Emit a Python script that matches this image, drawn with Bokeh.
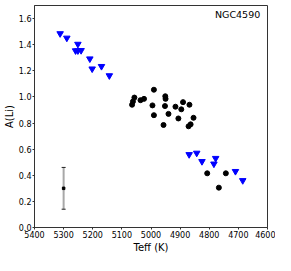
from bokeh.plotting import figure
from bokeh.models import Range1d, FixedTicker, Label, ColumnDataSource, CustomJSTickFormatter
from bokeh.embed import file_html
from bokeh.resources import INLINE

# Upper limits (blue downward triangles)
lim_teff = [5312, 5289, 5251, 5259, 5251, 5240, 5210, 5202, 5170, 5143,
            4869, 4843, 4825, 4778, 4784, 4710, 4685]
lim_ali = [1.485, 1.451, 1.404, 1.354, 1.354, 1.356, 1.292, 1.215, 1.234, 1.163,
           0.559, 0.570, 0.506, 0.530, 0.487, 0.430, 0.360]

# Detections (black circles)
det_teff = [5065, 5062, 5057, 5036, 5024, 4990, 4995, 4951, 4950, 4952, 4916,
            4896, 4890, 4868, 4990, 4940, 4906, 4854, 4957, 4871, 4864,
            4807, 4743, 4767]
det_ali = [0.94, 0.965, 0.995, 0.975, 0.985, 1.055, 0.935, 1.005, 0.985, 0.93, 0.925,
           0.905, 0.96, 0.94, 0.86, 0.87, 0.835, 0.84, 0.785, 0.775, 0.79,
           0.415, 0.415, 0.305]

# Typical error bar
err_teff = [5300]
err_ali = [0.30]
err_size = [0.16]

x_ticks = [5400, 5300, 5200, 5100, 5000, 4900, 4800, 4700, 4600]
y_ticks = [0.0, 0.2, 0.4, 0.6, 0.8, 1.0, 1.2, 1.4, 1.6]
title_text = "NGC4590"

p = figure(width=275, height=255, output_backend="svg", toolbar_location=None,
           x_range=Range1d(5400, 4600), y_range=Range1d(0.0, 1.7),
           min_border_left=0, min_border_right=8, min_border_top=5, min_border_bottom=0)
p.xgrid.visible = False
p.ygrid.visible = False
p.outline_line_color = "#333333"
p.outline_line_width = 1

p.xaxis.ticker = FixedTicker(ticks=x_ticks)
p.yaxis.ticker = FixedTicker(ticks=y_ticks)
p.yaxis.formatter = CustomJSTickFormatter(code="return tick.toFixed(1);")
p.xaxis.axis_label = "Teff (K)"
p.yaxis.axis_label = "A(Li)"
for ax in (p.xaxis, p.yaxis):
    ax.major_label_text_font = "DejaVu Sans"
    ax.major_label_text_font_size = "8px"
    ax.major_label_text_color = "#000000"
    ax.axis_label_text_font = "DejaVu Sans"
    ax.axis_label_text_font_size = "10px"
    ax.axis_label_text_font_style = "normal"
    ax.axis_label_text_color = "#000000"
    ax.axis_line_color = "#333333"
    ax.major_tick_line_color = "#333333"
    ax.major_tick_out = 2
    ax.major_tick_in = 0
    ax.minor_tick_line_color = None
    ax.major_label_standoff = 1
    ax.axis_label_standoff = 1

src_err = ColumnDataSource(dict(x=err_teff, y=err_ali,
                                lo=[a - e for a, e in zip(err_ali, err_size)],
                                hi=[a + e for a, e in zip(err_ali, err_size)]))
p.segment(x0="x", y0="lo", x1="x", y1="hi", source=src_err,
          line_color="#a8a8a8", line_width=2)
p.scatter(x="x", y="lo", source=src_err, marker="dash", size=4, line_color="#222222", line_width=1)
p.scatter(x="x", y="hi", source=src_err, marker="dash", size=4, line_color="#222222", line_width=1)
p.scatter(x="x", y="y", source=src_err, marker="square", size=2.5, fill_color="black", line_color="black")

p.scatter(lim_teff, lim_ali, marker="inverted_triangle", size=6.5,
          fill_color="#0000ff", line_color="#0000ff")
p.scatter(det_teff, det_ali, marker="circle", size=5,
          fill_color="black", line_color="black")

p.add_layout(Label(x=4625, y=1.628, text=title_text, text_align="right",
                   text_baseline="middle", text_font="DejaVu Sans",
                   text_font_size="9.5px", text_color="black"))

open("out.html", "w").write(file_html(p, INLINE))
